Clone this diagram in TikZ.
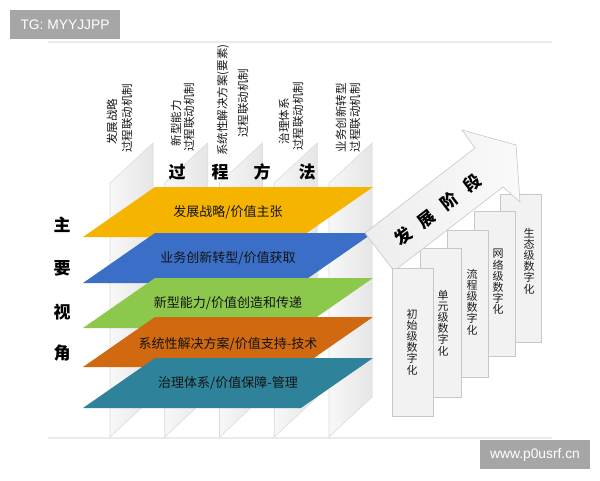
\documentclass[tikz,border=0pt]{standalone}
\usepackage{fontspec}
\setmainfont{Noto Sans CJK SC}
\newfontfamily\latf{Liberation Sans}
\definecolor{lyY}{HTML}{F4B400}
\definecolor{lyB}{HTML}{3B6FC7}
\definecolor{lyG}{HTML}{8CC84B}
\definecolor{lyO}{HTML}{D0690F}
\definecolor{lyT}{HTML}{2E8299}
\begin{document}
\begin{tikzpicture}[x=1pt,y=-1pt,
  colpanel/.style={left color=black!3,right color=black!10,draw=black!14,line width=0.6pt},
  lyrtxt/.style={font=\fontsize{13}{13}\selectfont,text=black!92,inner sep=0pt},
  vtitle/.style={rotate=90,font=\fontsize{11.5}{11.5}\selectfont,text=black!90,inner sep=0pt},
  bigc/.style={font=\fontsize{17}{17}\selectfont\bfseries,inner sep=0pt,text=black},
  stagebox/.style={fill=black!5,draw=black!22,line width=0.6pt,inner sep=0pt},
  bigarrow/.style={left color=black!7,right color=black!2,draw=black!22,line width=0.6pt},
  stagetxt/.style={font=\fontsize{11}{11.2}\selectfont,align=center,text=black!88,inner sep=0pt},
  wmark/.style={fill=black!35,text=white,font=\latf\fontsize{13.8}{14}\selectfont,inner sep=0pt,minimum width=110,minimum height=29},
  rule/.style={draw=black!8,line width=1.5pt}
]
\useasboundingbox (0,0) rectangle (600,480);
\fill[white] (0,0) rectangle (600,480);

% horizontal rules
\draw[rule] (48,42) -- (552,42);
\draw[rule] (48,438) -- (552,438);

% background columns
\foreach \x in {110,164.7,219.5,274.2,329}{
  \path[colpanel] (\x,183) -- (\x+43,143) -- (\x+43,397) -- (\x,437) -- cycle;
}

% column titles
\node[vtitle] (c1a) at (112,121.5) {发展战略};
\node[vtitle] (c1b) at (127,118) {过程联动机制};
\node[vtitle] (c2a) at (176,123) {新型能力};
\node[vtitle] (c2b) at (189,117) {过程联动机制};
\node[vtitle] (c3a) at (223,100) {系统性解决方案(要素)};
\node[vtitle] (c3b) at (243,103) {过程联动机制};
\node[vtitle] (c4a) at (284,121) {治理体系};
\node[vtitle] (c4b) at (298,116) {过程联动机制};
\node[vtitle] (c5a) at (341,117.5) {业务创新转型};
\node[vtitle] (c5b) at (355,117.5) {过程联动机制};

% 过程方法
\node[bigc] (p1) at (177,172) {过};
\node[bigc] (p2) at (220,172) {程};
\node[bigc] (p3) at (262,172) {方};
\node[bigc] (p4) at (307,172) {法};

% 主要视角
\node[bigc] (m1) at (62,225) {主};
\node[bigc] (m2) at (62,268) {要};
\node[bigc] (m3) at (62,312) {视};
\node[bigc] (m4) at (62,353) {角};

% layers
\fill[lyY] (155,187) -- (373,187) -- (301,237) -- (83,237) -- cycle;
\node[lyrtxt] (l1) at (228,212) {发展战略/价值主张};
\fill[lyB] (155,233) -- (373,233) -- (301,283) -- (83,283) -- cycle;
\node[lyrtxt] (l2) at (228,258) {业务创新转型/价值获取};
\fill[lyG] (155,278) -- (373,278) -- (301,328) -- (83,328) -- cycle;
\node[lyrtxt] (l3) at (228,303) {新型能力/价值创造和传递};
\fill[lyO] (155,317) -- (373,317) -- (301,367) -- (83,367) -- cycle;
\node[lyrtxt] (l4) at (228,344) {系统性解决方案/价值支持-技术};
\fill[lyT] (155,358) -- (373,358) -- (301,408) -- (83,408) -- cycle;
\node[lyrtxt] (l5) at (228,383) {治理体系/价值保障-管理};

% stage boxes (back to front)
\node[stagebox,minimum width=41,minimum height=148] (s5) at (520.5,268) {};
\node[stagebox,minimum width=41,minimum height=145] (s4) at (494.5,283.5) {};
\node[stagebox,minimum width=41,minimum height=147] (s3) at (467.5,303.5) {};
\node[stagebox,minimum width=41,minimum height=149] (s2) at (440.5,322.5) {};

% big arrow
\path[bigarrow] (365,233) -- (475,148) -- (462,130) -- (516,145) -- (520,202) -- (503,187) -- (394,271) -- cycle;
\node[bigc,rotate=37.7] (arr) at (438,210) {发\hspace{0.7em}展\hspace{0.7em}阶\hspace{0.7em}段};

\node[stagebox,minimum width=41,minimum height=148] (s1) at (412.5,342) {};

% stage texts
\node[stagetxt] (t1) at (412,342) {初\\始\\级\\数\\字\\化};
\node[stagetxt] (t2) at (443,323) {单\\元\\级\\数\\字\\化};
\node[stagetxt] (t3) at (472,302) {流\\程\\级\\数\\字\\化};
\node[stagetxt] (t4) at (498,282) {网\\络\\级\\数\\字\\化};
\node[stagetxt] (t5) at (529,261) {生\\态\\级\\数\\字\\化};

% watermarks
\node[wmark] (w1) at (65,24.5) {TG: MYYJJPP};
\node[wmark] (w2) at (535,454.5) {www.p0usrf.cn};
\end{tikzpicture}
\end{document}
